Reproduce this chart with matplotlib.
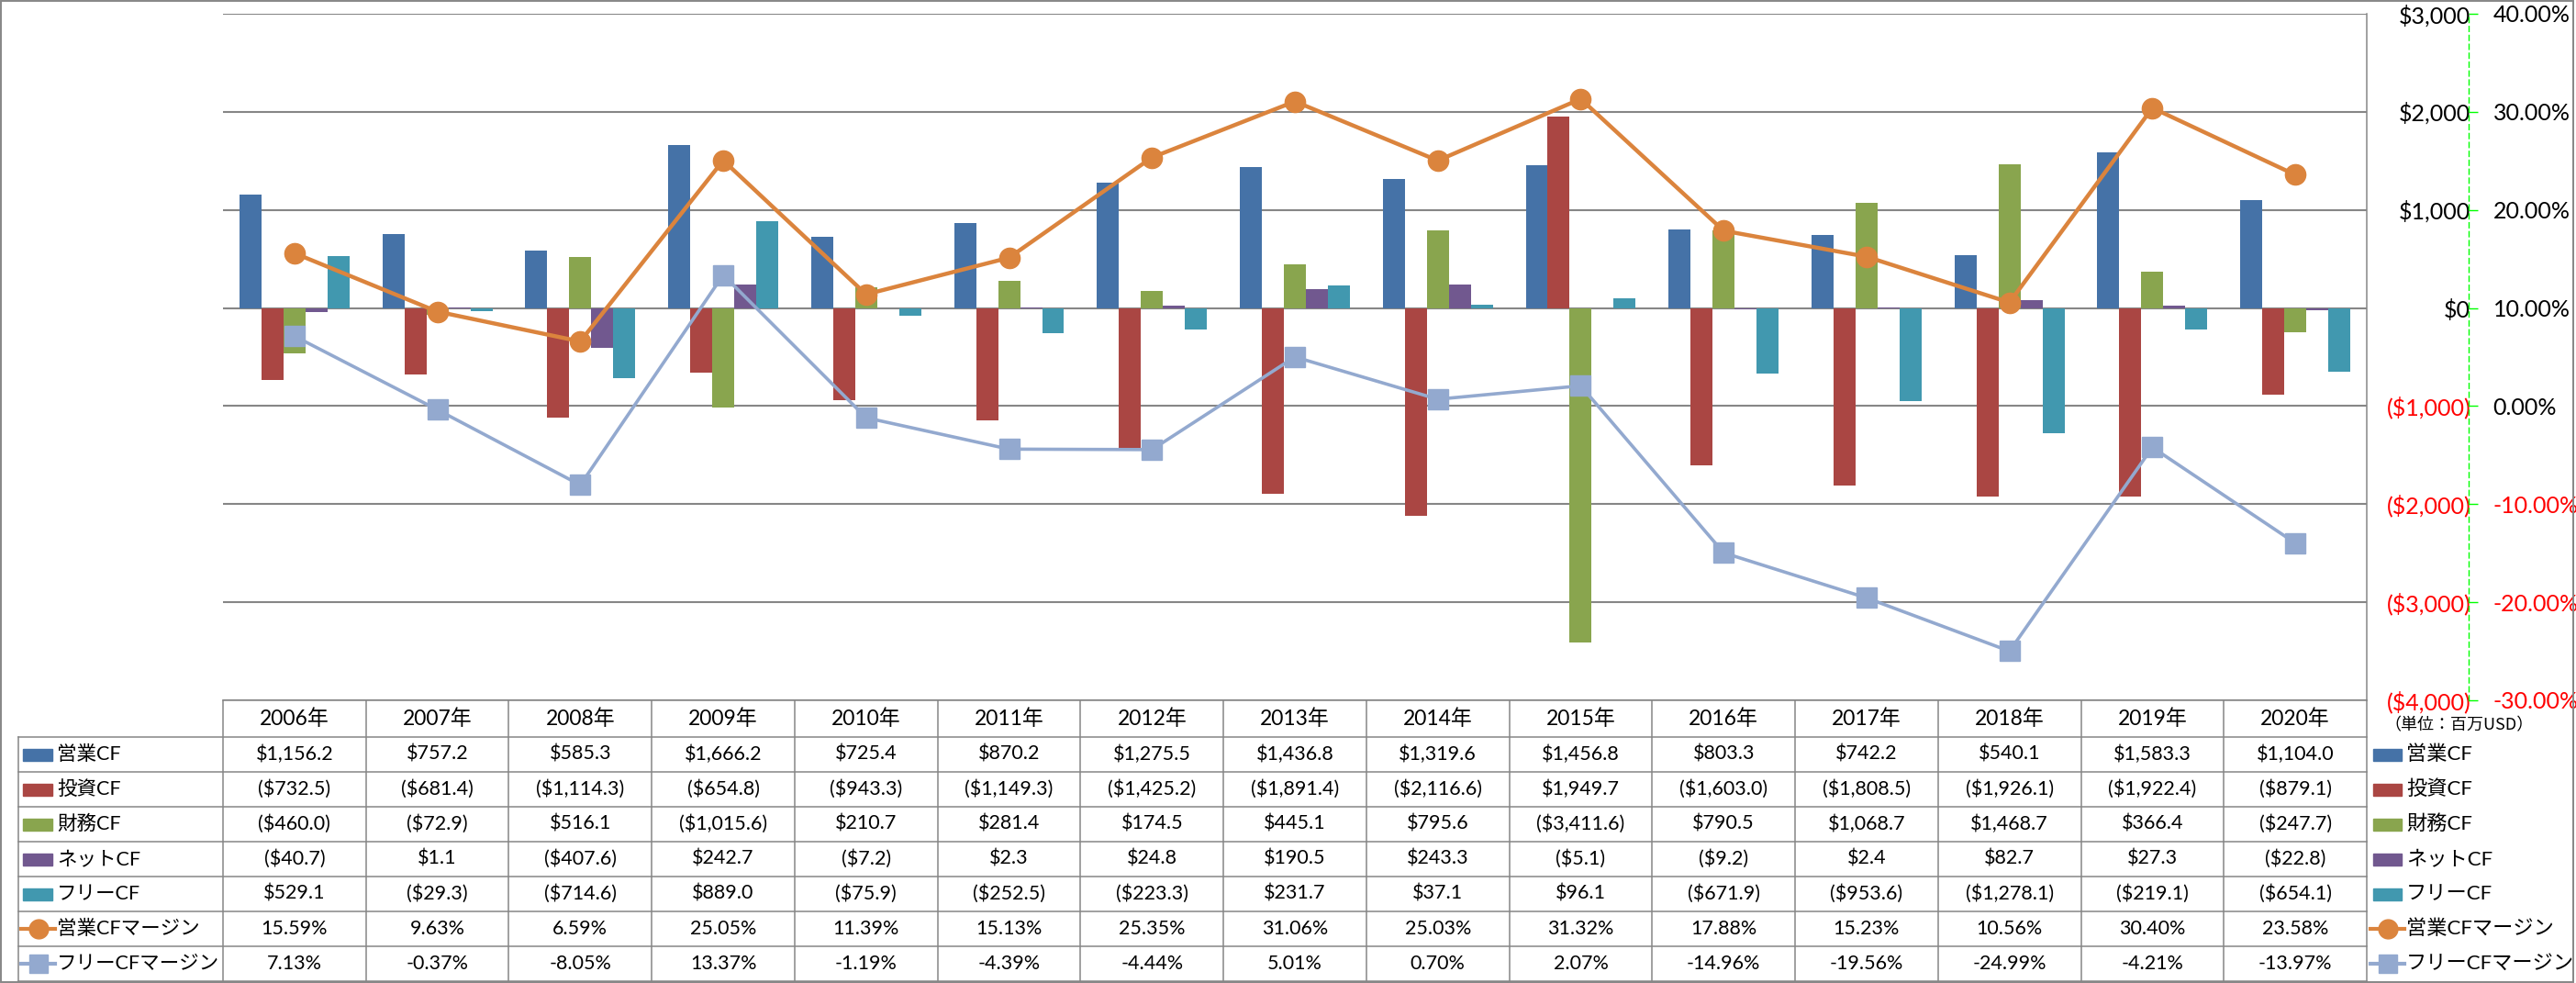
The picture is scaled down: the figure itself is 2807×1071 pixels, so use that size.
import numpy as np
import matplotlib.pyplot as plt
import matplotlib.transforms as mtransforms
from matplotlib.patches import Rectangle
from matplotlib.lines import Line2D

plt.rcParams['font.family'] = ['Lato', 'Noto Sans CJK JP']

# data (百万USD)
years = [f"{y}年" for y in range(2006, 2021)]
operating_cf = [1156.2, 757.2, 585.3, 1666.2, 725.4, 870.2, 1275.5, 1436.8,
                1319.6, 1456.8, 803.3, 742.2, 540.1, 1583.3, 1104.0]
investing_cf = [-732.5, -681.4, -1114.3, -654.8, -943.3, -1149.3, -1425.2, -1891.4,
                -2116.6, 1949.7, -1603.0, -1808.5, -1926.1, -1922.4, -879.1]
financing_cf = [-460.0, -72.9, 516.1, -1015.6, 210.7, 281.4, 174.5, 445.1,
                795.6, -3411.6, 790.5, 1068.7, 1468.7, 366.4, -247.7]
net_cf = [-40.7, 1.1, -407.6, 242.7, -7.2, 2.3, 24.8, 190.5,
          243.3, -5.1, -9.2, 2.4, 82.7, 27.3, -22.8]
free_cf = [529.1, -29.3, -714.6, 889.0, -75.9, -252.5, -223.3, 231.7,
           37.1, 96.1, -671.9, -953.6, -1278.1, -219.1, -654.1]
op_margin = [15.59, 9.63, 6.59, 25.05, 11.39, 15.13, 25.35, 31.06,
             25.03, 31.32, 17.88, 15.23, 10.56, 30.40, 23.58]
free_margin = [7.13, -0.37, -8.05, 13.37, -1.19, -4.39, -4.44, 5.01,
               0.70, 2.07, -14.96, -19.56, -24.99, -4.21, -13.97]

bar_names = ['営業CF', '投資CF', '財務CF', 'ネットCF', 'フリーCF']
bar_series = [operating_cf, investing_cf, financing_cf, net_cf, free_cf]
bar_colors = ['#4572A7', '#AA4643', '#89A54E', '#71588F', '#4198AF']
line_names = ['営業CFマージン', 'フリーCFマージン']
line_series = [op_margin, free_margin]
line_colors = ['#DB843D', '#93A9CF']
line_markers = ['o', 's']

money_ticks = [3000, 2000, 1000, 0, -1000, -2000, -3000, -4000]
pct_ticks = [40, 30, 20, 10, 0, -10, -20, -30]


def fmt_money(v, dec=1):
    s = f"${abs(v):,.{dec}f}"
    return s if v >= 0 else f"({s})"


W, H = 2807, 1071
fig = plt.figure(figsize=(W / 100, H / 100), dpi=100)

left, right, top, bottom = 243, 2579, 15, 763
ax = fig.add_axes([left / W, 1 - bottom / H, (right - left) / W, (bottom - top) / H])
ax.set_facecolor('none')

n = len(years)
x = np.arange(n)
bw = 0.154
for i, (vals, col) in enumerate(zip(bar_series, bar_colors)):
    ax.bar(x + (i - 2) * bw, vals, width=bw, color=col, zorder=2)

ax2 = ax.twinx()
for vals, col, mk in zip(line_series, line_colors, line_markers):
    ax2.plot(x, vals, color=col, lw=3.2 if mk == 'o' else 2.6, marker=mk,
             markersize=16, markerfacecolor=col, markeredgecolor=col, zorder=3)

ax.set_xlim(-0.5, n - 0.5)
ax.set_ylim(-4000, 3000)
ax.set_yticks(money_ticks, [fmt_money(t, 0) for t in money_ticks])
ax.tick_params(axis='y', left=False, labelleft=False, right=False, labelright=True,
               pad=78, labelsize=18)
ax.tick_params(axis='x', bottom=False, labelbottom=False)
ax.yaxis.grid(True, color='#868686', lw=1.5)
ax.set_axisbelow(True)
for s in ['top', 'left', 'bottom']:
    ax.spines[s].set_visible(False)
ax.spines['right'].set_color('#868686')
ax.spines['right'].set_linewidth(1.1)

ax2.set_ylim(-30, 40)
ax2.set_yticks(pct_ticks, [f"{t:.2f}%" for t in pct_ticks])
for s in ['top', 'left', 'bottom']:
    ax2.spines[s].set_visible(False)
ax2.spines['right'].set_position(('outward', 80))
ax2.spines['right'].set_color('#00FF00')
ax2.spines['right'].set_linestyle((0, (4, 3)))
ax2.spines['right'].set_linewidth(1)
ax2.tick_params(axis='y', length=7, width=1, color='#00FF00', pad=12, labelsize=18)

# negative tick labels in red
for tk, t in zip(ax.yaxis.get_major_ticks(), money_ticks):
    tk.label2.set_ha('right')
    tk.label2.set_color('red' if t < 0 else 'black')
for tk, t in zip(ax2.yaxis.get_major_ticks(), pct_ticks):
    tk.label2.set_color('red' if t < 0 else 'black')

# overlay in pixel coordinates for the data table and legend
ov = fig.add_axes([0, 0, 1, 1], zorder=5)
ov.set_xlim(0, W)
ov.set_ylim(H, 0)
ov.axis('off')
ov.set_facecolor('none')
bt = mtransforms.blended_transform_factory(ax.transData, ov.transData)

grid_c = '#868686'
row_h = 38
row0 = 803
nrows = len(bar_names) + len(line_names)

# header
ov.plot([-0.5, n - 0.5], [bottom, bottom], color=grid_c, lw=1.1, transform=bt)
for i in range(n + 1):
    ov.plot([i - 0.5, i - 0.5], [bottom, row0 + nrows * row_h], color=grid_c, lw=1.1,
            transform=bt)
for i, yr in enumerate(years):
    ov.text(i, (bottom + row0) / 2, yr, ha='center', va='center', fontsize=16.5,
            transform=bt)
for k in range(nrows + 1):
    yk = row0 + k * row_h
    ov.plot([20, right], [yk, yk], color=grid_c, lw=1.1)
ov.plot([20, 20], [row0, row0 + nrows * row_h], color=grid_c, lw=1.1)

rows = [[fmt_money(v) for v in s] for s in bar_series] + \
       [[f"{v:.2f}%" for v in s] for s in line_series]
names = bar_names + line_names
for k, (name, vals) in enumerate(zip(names, rows)):
    yc = row0 + k * row_h + row_h / 2
    for i, txt in enumerate(vals):
        ov.text(i, yc, txt, ha='center', va='center', fontsize=15.5, transform=bt)
    ov.text(62, yc, name, ha='left', va='center', fontsize=15.5)
    ov.text(2622, yc, name, ha='left', va='center', fontsize=16)
    if k < len(bar_names):
        col = bar_colors[k]
        ov.add_patch(Rectangle((25, yc - 6.5), 32, 13, color=col))
        ov.add_patch(Rectangle((2586, yc - 6.5), 31, 13, color=col))
    else:
        j = k - len(bar_names)
        col = line_colors[j]
        for x0, x1 in [(23, 60), (2583, 2620)]:
            ov.add_line(Line2D([x0, x1], [yc, yc], color=col, lw=3))
            ov.add_line(Line2D([(x0 + x1) / 2], [yc], color=col, marker=line_markers[j],
                               markersize=15, lw=0))

ov.text(2598, 790, '（単位：百万USD）', ha='left', va='center', fontsize=13,
        family=['Noto Sans CJK JP'])

ov.add_patch(Rectangle((1, 1), W - 4, H - 2, fill=False, edgecolor=grid_c, lw=1.4))

fig.savefig('out.png', dpi=100)
